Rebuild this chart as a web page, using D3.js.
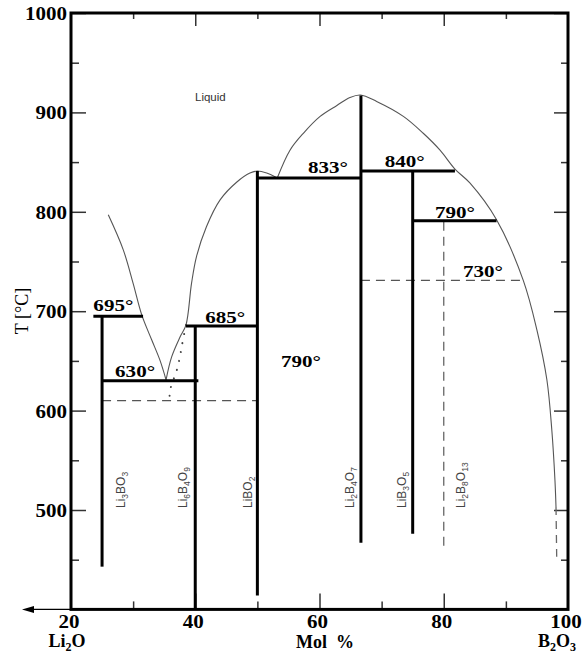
<!DOCTYPE html>
<html><head><meta charset="utf-8">
<script src="https://cdn.jsdelivr.net/npm/d3@7/dist/d3.min.js"></script>
<style>body{margin:0;background:#fff}svg{display:block}</style>
</head><body>
<script>
// ---- data ----
const xTicksMajor = [20, 40, 60, 80, 100];
const xTicksMinor = [30, 50, 70, 90];
const yTicksMajor = [500, 600, 700, 800, 900, 1000];
const yTicksMinor = [450, 550, 650, 750, 850, 950];

const compoundNames = [
  [["Li",0],["3",1],["BO",0],["3",1]],
  [["Li",0],["6",1],["B",0],["4",1],["O",0],["9",1]],
  [["LiBO",0],["2",1]],
  [["Li",0],["2",1],["B",0],["4",1],["O",0],["7",1]],
  [["LiB",0],["3",1],["O",0],["5",1]],
  [["Li",0],["2",1],["B",0],["8",1],["O",0],["13",1]]
];
const compoundX = [25, 40, 50, 66.67, 75, 80];
const compoundTop = [695, 685, 841, 917, 841, 790];
const compoundBottom = [443, 400, 414, 467, 476, 460];
const compoundDashed = [false, false, false, false, false, true];

const isoT    = [695, 630, 685, 834, 841, 791];
const isoFrom = [23.6, 25, 38.5, 50, 66.67, 75];
const isoTo   = [31.6, 40.5, 50, 66.67, 81.8, 88.5];

const dashT    = [610, 731];
const dashFrom = [25, 66.67];
const dashTo   = [50, 92.8];

const liqLeft = [[26.0,797],[28.4,762],[30.0,728],[31.4,696],[33.0,671],[34.3,651],[35.3,631]];
const liqLiBO2 = [[35.3,631],[36.2,654],[37.55,674],[38.5,686],[39.4,728],[40.2,755],[41.8,785],[44.0,812],[46.7,830],[48.8,839],[50.0,841],[51.5,839],[53.2,834]];
const liqLi2B4O7 = [[53.2,834],[55.25,862],[57.4,879],[60.1,896],[62.8,907],[64.9,915],[66.6,917.5],[69.2,911],[73.5,896],[76.7,879],[79.4,862],[81.8,843],[84.2,829],[88.5,792],[92.8,731],[95.0,681],[96.6,631],[97.4,580],[97.9,530],[98.07,503]];
const liqTail = [[98.07,503],[98.18,453]];
const dotted = [[38.5,686],[37.9,667],[37.4,650],[36.9,638],[36.3,628],[35.9,619],[35.9,609]];

const degLabels = ["695°","630°","685°","833°","840°","790°","730°","790°"];
const degX = [23.6, 27.1, 41.6, 58.15, 70.5, 78.6, 83.1, 53.8];
const degT = [700.5, 634, 688.4, 839, 845.4, 794, 734.7, 644];

// ---- drawing ----
const W = 584, H = 657;
const svg = d3.select("body").append("svg").attr("width", W).attr("height", H);
const x = d3.scaleLinear().domain([20, 100]).range([71, 568]);
const y = d3.scaleLinear().domain([400, 1000]).range([609.4, 13]);
const serif = "'Liberation Serif','Times New Roman',serif";
const sans = "'Liberation Sans',Arial,sans-serif";

function tickAxis(axis, g) {
  g.call(axis);
  g.select(".domain").remove();
  g.selectAll(".tick line").attr("stroke", "#333").attr("stroke-width", 1.5);
  g.selectAll(".tick text").remove();
}
// left axis ticks (inward)
tickAxis(d3.axisRight(y).tickValues(yTicksMajor).tickSize(15), svg.append("g").attr("transform", `translate(${x(20)},0)`));
tickAxis(d3.axisRight(y).tickValues(yTicksMinor).tickSize(8), svg.append("g").attr("transform", `translate(${x(20)},0)`));
// right axis ticks (inward)
tickAxis(d3.axisLeft(y).tickValues(yTicksMajor).tickSize(14), svg.append("g").attr("transform", `translate(${x(100)},0)`));
tickAxis(d3.axisLeft(y).tickValues(yTicksMinor).tickSize(7), svg.append("g").attr("transform", `translate(${x(100)},0)`));
// top axis ticks
tickAxis(d3.axisBottom(x).tickValues(xTicksMajor.slice(1,-1)).tickSize(13), svg.append("g").attr("transform", `translate(0,${y(1000)})`));
tickAxis(d3.axisBottom(x).tickValues(xTicksMinor).tickSize(6), svg.append("g").attr("transform", `translate(0,${y(1000)})`));
// bottom axis ticks
tickAxis(d3.axisTop(x).tickValues(xTicksMajor.slice(1,-1)).tickSize(16), svg.append("g").attr("transform", `translate(0,${y(400)})`));
tickAxis(d3.axisTop(x).tickValues(xTicksMinor).tickSize(8), svg.append("g").attr("transform", `translate(0,${y(400)})`));

// frame
svg.append("rect").attr("x", x(20)).attr("y", y(1000)).attr("width", x(100) - x(20)).attr("height", y(400) - y(1000))
  .attr("fill", "none").attr("stroke", "#000").attr("stroke-width", 3);

// arrow
svg.append("line").attr("x1", x(20)).attr("x2", 30).attr("y1", y(400)).attr("y2", y(400)).attr("stroke", "#000").attr("stroke-width", 1.2);
svg.append("path").attr("d", `M22,${y(400)} L34,${y(400)-3.5} L34,${y(400)+3.5} Z`).attr("fill", "#000");

// y tick labels
svg.selectAll(".ylab").data(yTicksMajor).join("text")
  .attr("x", 67).attr("y", d => y(d) + 7).attr("text-anchor", "end")
  .attr("font-family", serif).attr("font-weight", "bold").attr("font-size", 18)
  .attr("textLength", d => String(d).length * 10.5).attr("lengthAdjust", "spacingAndGlyphs")
  .text(d => d);
// x tick labels
svg.selectAll(".xlab").data(xTicksMajor).join("text")
  .attr("x", d => x(d) - 2).attr("y", 628).attr("text-anchor", "middle")
  .attr("font-family", serif).attr("font-weight", "bold").attr("font-size", 18)
  .attr("textLength", d => String(d).length * 10.5).attr("lengthAdjust", "spacingAndGlyphs")
  .text(d => d);

// y title
svg.append("text").attr("transform", `translate(28,311) rotate(-90)`).attr("text-anchor", "middle")
  .attr("font-family", serif).attr("font-size", 18).attr("fill", "#000").text("T [°C]");

// chemical formula with subscripts
function chem(textSel, parts, fs, subFs, subDy) {
  let shift = 0;
  parts.forEach(([t, s]) => {
    const target = s ? subDy : 0;
    textSel.append("tspan").attr("font-size", s ? subFs : fs).attr("dy", target - shift).text(t);
    shift = target;
  });
}
const li2o = svg.append("text").attr("x", 67).attr("y", 647).attr("text-anchor", "middle")
  .attr("font-family", serif).attr("font-weight", "bold").attr("font-size", 18);
chem(li2o, [["Li",0],["2",1],["O",0]], 18, 12, 4);
svg.append("text").attr("x", 325).attr("y", 648).attr("text-anchor", "middle")
  .attr("font-family", serif).attr("font-weight", "bold").attr("font-size", 18)
  .attr("xml:space", "preserve").text("Mol  %");
const b2o3 = svg.append("text").attr("x", 557).attr("y", 647).attr("text-anchor", "middle")
  .attr("font-family", serif).attr("font-weight", "bold").attr("font-size", 18);
chem(b2o3, [["B",0],["2",1],["O",0],["3",1]], 18, 12, 4);

// liquidus curves
const line = d3.line().x(d => x(d[0])).y(d => y(d[1])).curve(d3.curveCatmullRom.alpha(0.5));
[liqLeft, liqLiBO2, liqLi2B4O7].forEach(pts => {
  svg.append("path").attr("d", line(pts)).attr("fill", "none").attr("stroke", "#555").attr("stroke-width", 1.1);
});
svg.append("path").attr("d", line(liqTail)).attr("fill", "none").attr("stroke", "#666").attr("stroke-width", 1.3).attr("stroke-dasharray", "8,6");
svg.append("path").attr("d", line(dotted)).attr("fill", "none").attr("stroke", "#444").attr("stroke-width", 2)
  .attr("stroke-linecap", "round").attr("stroke-dasharray", "0.1,9");

// dashed isotherms
dashT.forEach((t, i) => {
  svg.append("line").attr("x1", x(dashFrom[i])).attr("x2", x(dashTo[i])).attr("y1", y(t)).attr("y2", y(t))
    .attr("stroke", "#555").attr("stroke-width", 1.3).attr("stroke-dasharray", "9,6");
});

// compound verticals
compoundX.forEach((cx, i) => {
  const l = svg.append("line").attr("x1", x(cx)).attr("x2", x(cx)).attr("y1", y(compoundTop[i])).attr("y2", y(compoundBottom[i]));
  if (compoundDashed[i]) l.attr("stroke", "#666").attr("stroke-width", 1.3).attr("stroke-dasharray", "9,6");
  else l.attr("stroke", "#000").attr("stroke-width", 3);
});

// solid isotherms
isoT.forEach((t, i) => {
  svg.append("line").attr("x1", x(isoFrom[i])).attr("x2", x(isoTo[i])).attr("y1", y(t)).attr("y2", y(t))
    .attr("stroke", "#000").attr("stroke-width", 3);
});

// compound labels (rotated)
const labelX = [28.1, 38.1, 48.5, 64.9, 73.2, 82.8];
compoundNames.forEach((parts, i) => {
  const t = svg.append("text").attr("transform", `translate(${x(labelX[i]) + 4},${y(502)}) rotate(-90)`)
    .attr("font-family", sans).attr("font-size", 12).attr("fill", "#444");
  chem(t, parts, 12, 8.5, 3);
});

// degree labels
degLabels.forEach((lab, i) => {
  svg.append("text").attr("x", x(degX[i])).attr("y", y(degT[i]))
    .attr("font-family", serif).attr("font-weight", "bold").attr("font-size", 17)
    .attr("textLength", 40).attr("lengthAdjust", "spacingAndGlyphs").text(lab);
});

// Liquid
svg.append("text").attr("x", 195).attr("y", 101).attr("font-family", sans).attr("font-size", 11.5).attr("fill", "#333").text("Liquid");
</script>
</body></html>
